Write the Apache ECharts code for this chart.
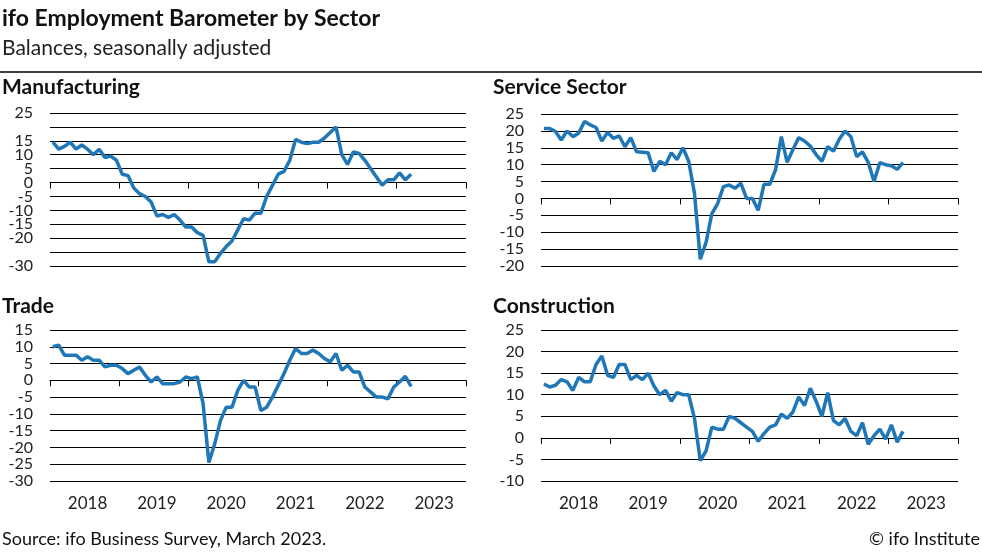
<!DOCTYPE html>
<html><head><meta charset="utf-8">
<script src="https://cdn.jsdelivr.net/npm/echarts@6/dist/echarts.min.js"></script>
<style>body{margin:0;background:#fff}#c{width:982px;height:553px}</style>
</head><body><div id="c"></div>
<script>
const years = ['2018','2019','2020','2021','2022','2023'];
const manufacturing = [14.5,12,13,14.5,12,13.5,12,10,12,9,9.5,8,
 3,2.5,-2,-4,-5,-7,-12,-11.5,-12.5,-11.5,-13.5,-16,
 -16,-18,-19,-28.5,-28.5,-25.5,-23,-21,-17,-13,-13.5,-11,
 -11,-5,-1,3,4,8,15.5,14.5,14,14.5,14.5,16,
 18,20,10,6.5,11,10.5,8,5,2,-1,1,1,
 3.5,1,3];
const services = [20.7,20.7,19.8,17.3,20,18.3,19.3,22.8,21.8,21,17,19.5,
 17.8,18.5,15.3,18,13.8,13.7,13.5,8,11,10,13.5,11.5,
 15,11,1.5,-18,-13,-4.5,-1.5,3.5,4,3,4.5,0,
 0,-3.5,4.2,4.2,8.5,18.3,10.7,14.5,18,17,15.5,13,
 11,15.3,14,17.5,20,18.3,12.4,13.8,10.7,5,10.6,10,
 9.7,8.6,10.6];
const trade = [10,10.5,7.5,7.5,7.5,6,7,6,6,4,4.5,4.5,
 3.5,2,3,4,1.5,-0.5,1,-1,-1,-1,-0.5,1,
 0.5,1,-7,-24.5,-19,-12,-8,-8,-3,0,-2,-2,
 -9,-8,-5,-1.5,2,6,9.5,8,8,9,8,6.5,
 5.5,8,3,4.5,2.5,2.5,-2,-3.5,-5,-5,-5.5,-2,
 -0.5,1.2,-1.8];
const construction = [12.5,11.8,12.2,13.5,13,11,14,13,13,17,19,14.5,
 14,17,17,13.5,14.5,13.5,15,12,10,11,8.5,10.5,
 10,10,4.5,-5.3,-3,2.5,2,2,5,4.5,3.5,2.5,
 1.5,-0.8,1,2.5,3,5.5,4.5,6,9.5,7.5,11.5,8.5,
 5,10.5,4,3,4.5,1.5,0.5,3.5,-1.5,0.5,2,-0.3,
 3,-1,1.5];
const months = [];
years.forEach(y => { for (let m = 1; m <= 12; m++) months.push(y + '-' + m); });

const panels = [
  {name:'Manufacturing', data:manufacturing, min:-30, max:25, grid:{left:50,width:416,top:113,height:153}, labels:false, tx:2, ty:77},
  {name:'Service Sector', data:services, min:-20, max:25, grid:{left:541,width:417,top:114,height:152}, labels:false, tx:493, ty:77},
  {name:'Trade', data:trade, min:-30, max:15, grid:{left:50,width:416,top:330,height:151}, labels:true, tx:2, ty:296},
  {name:'Construction', data:construction, min:-10, max:25, grid:{left:541,width:417,top:330,height:151}, labels:true, tx:493, ty:296}
];
const font = 'Lato, "Noto Sans", sans-serif';
const option = {
  animation:false,
  textStyle:{fontFamily:font},
  title:[
    {text:'ifo Employment Barometer by Sector', left:2, top:7, padding:0, textStyle:{fontFamily:font,fontSize:23,fontWeight:'bold',color:'#111'}},
    {text:'Balances, seasonally adjusted', left:2, top:38, padding:0, textStyle:{fontFamily:font,fontSize:21,fontWeight:'normal',color:'#222'}},
    {text:'Source: ifo Business Survey, March 2023.', left:2, top:530, padding:0, textStyle:{fontFamily:font,fontSize:18,fontWeight:'normal',color:'#111'}},
    {text:'© ifo Institute', right:2, top:530, padding:0, textStyle:{fontFamily:font,fontSize:18,fontWeight:'normal',color:'#111'}}
  ].concat(panels.map(p => ({text:p.name, left:p.tx, top:p.ty, padding:0, textStyle:{fontFamily:font,fontSize:21,fontWeight:'bold',color:'#111'}}))),
  graphic:[{type:'line', shape:{x1:0,y1:72,x2:982,y2:72}, style:{stroke:'#000',lineWidth:1.5}}],
  grid: panels.map(p => p.grid),
  xAxis: panels.map((p,i) => ({
    type:'category', gridIndex:i, data:months, boundaryGap:true,
    axisLine:{lineStyle:{color:'#000',width:1}},
    axisTick:{show:true, length:6, interval:(idx)=>idx%12===0, lineStyle:{color:'#000'}},
    axisLabel:{show:p.labels, interval:(idx)=>idx%12===6, formatter:(v)=>v.slice(0,4), fontSize:17, color:'#222', margin:14, fontFamily:font},
    splitLine:{show:false}
  })),
  yAxis: panels.map((p,i) => ({
    type:'value', gridIndex:i, min:p.min, max:p.max, interval:5,
    axisLine:{show:false}, axisTick:{show:false},
    axisLabel:{fontSize:16, color:'#222', margin:17, fontFamily:font, hideOverlap:false, showMinLabel:true, showMaxLabel:true},
    splitLine:{lineStyle:{color:'#000', width:1}}
  })),
  series: panels.map((p,i) => ({
    type:'line', xAxisIndex:i, yAxisIndex:i, data:p.data, symbol:'none',
    lineStyle:{color:'#1f77b8', width:3.5}
  }))
};
echarts.init(document.getElementById('c')).setOption(option);
</script></body></html>
